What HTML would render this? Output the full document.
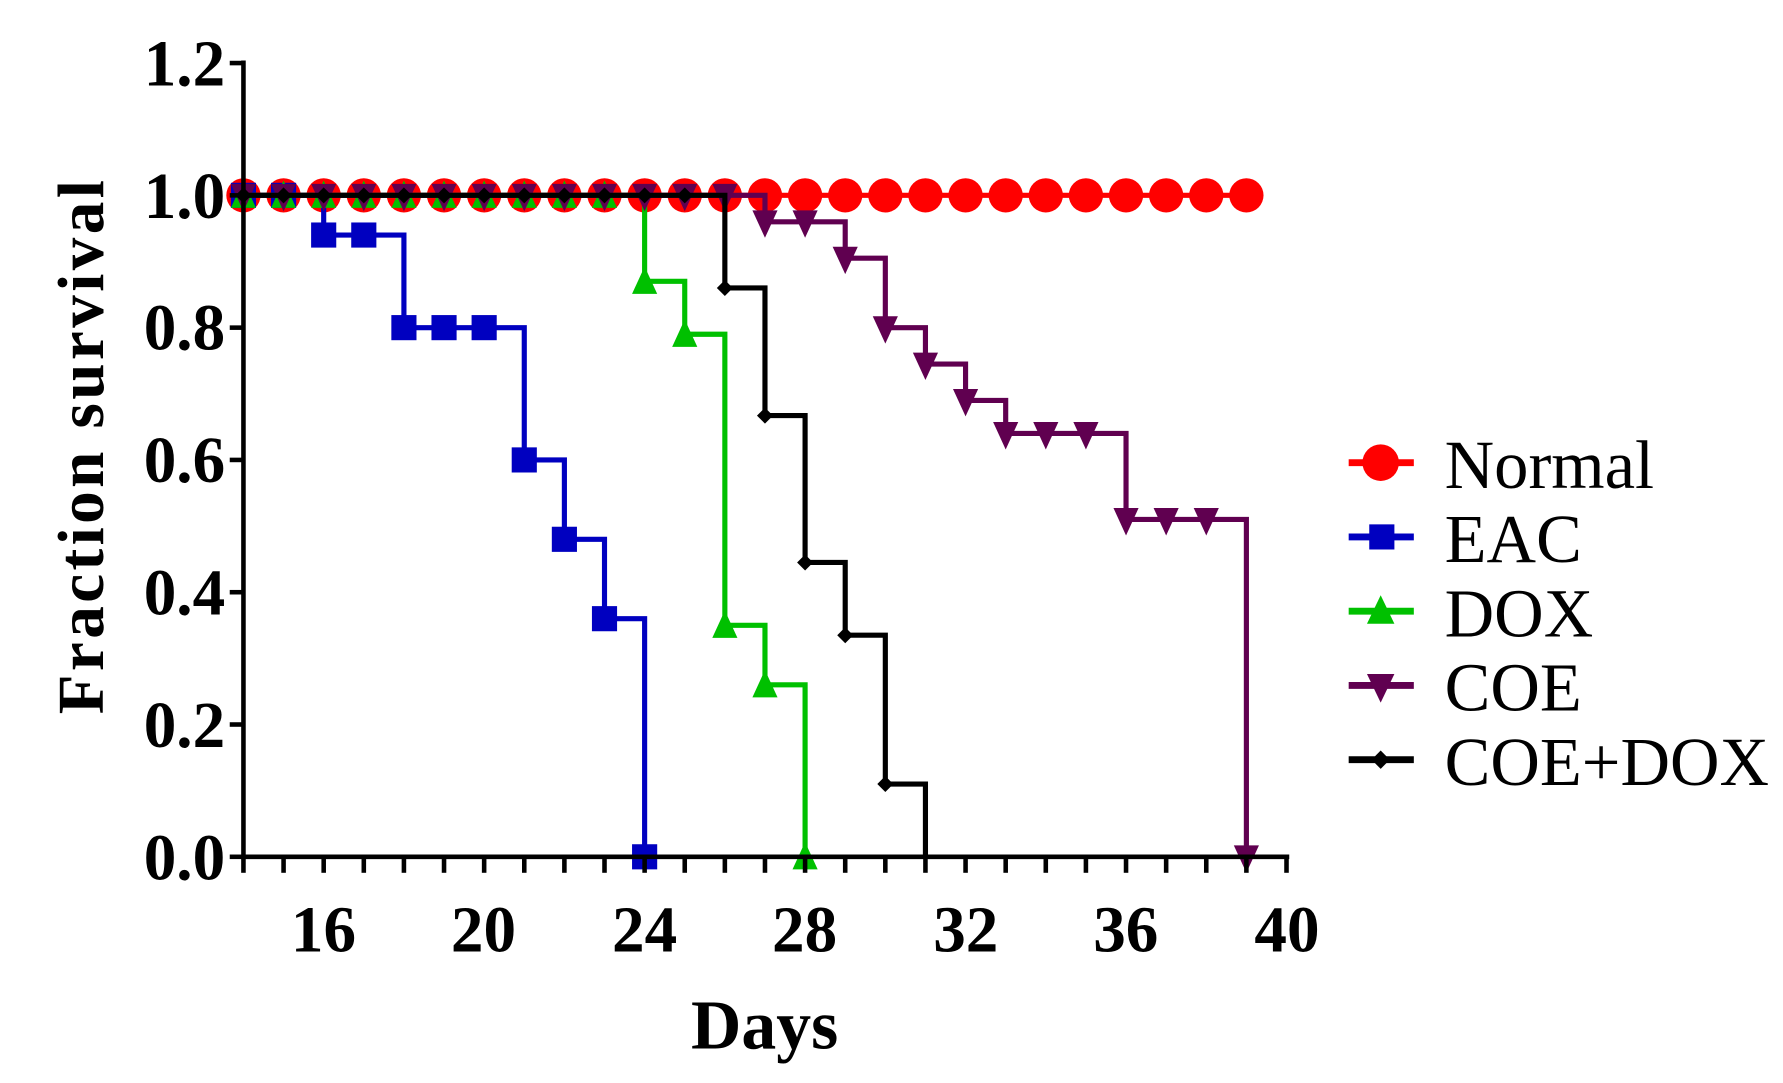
<!DOCTYPE html>
<html><head><meta charset="utf-8"><style>html,body{margin:0;padding:0;background:#fff}svg{display:block}</style></head>
<body>
<svg id="s" width="1783" height="1083" viewBox="0 0 1560 948" preserveAspectRatio="none" xmlns="http://www.w3.org/2000/svg" font-family="Liberation Serif, serif">
<g id="plot"></g>
<g stroke="#000" stroke-width="4" fill="none">
<line x1="213" y1="53" x2="213" y2="752"/>
<line x1="211" y1="750" x2="1128" y2="750"/>
</g>
<g id="ticks" stroke="#000" stroke-width="4"></g>
<g font-weight="bold" font-size="57" text-anchor="end">
<text x="197" y="770">0.0</text><text x="197" y="654">0.2</text><text x="197" y="538">0.4</text>
<text x="197" y="422">0.6</text><text x="197" y="306">0.8</text><text x="197" y="191">1.0</text><text x="197" y="75">1.2</text>
</g>
<g font-weight="bold" font-size="57" text-anchor="middle">
<text x="283" y="833">16</text><text x="423" y="833">20</text><text x="564" y="833">24</text><text x="704" y="833">28</text>
<text x="845" y="833">32</text><text x="985" y="833">36</text><text x="1126" y="833">40</text>
</g>
<text x="669" y="918" font-weight="bold" font-size="61" text-anchor="middle">Days</text>
<text transform="translate(90,390) rotate(-90)" font-weight="bold" font-size="57" text-anchor="middle" letter-spacing="3">Fraction survival</text>
<g font-size="60">
<line x1="1180" y1="405" x2="1237" y2="405" stroke="#f00" stroke-width="6"/><circle cx="1208" cy="405" r="16" fill="#f00"/>
<text x="1264" y="427">Normal</text>
<line x1="1180" y1="470" x2="1237" y2="470" stroke="#0000c0" stroke-width="6"/><rect x="1198" y="459" width="22" height="22" fill="#0000c0"/>
<text x="1264" y="492">EAC</text>
<line x1="1180" y1="535" x2="1237" y2="535" stroke="#00c000" stroke-width="6"/><polygon points="1208,521 1196,546 1220,546" fill="#00c000"/>
<text x="1264" y="557">DOX</text>
<line x1="1180" y1="600" x2="1237" y2="600" stroke="#600050" stroke-width="6"/><polygon points="1196,590 1220,590 1208,615" fill="#600050"/>
<text x="1264" y="622">COE</text>
<line x1="1180" y1="665" x2="1237" y2="665" stroke="#000" stroke-width="6"/><polygon points="1208,657 1216,665 1208,673 1200,665" fill="#000"/>
<text x="1264" y="687">COE+DOX</text>
</g>
</svg>
<script>
var NS="http://www.w3.org/2000/svg";
function X(d){return 213+(d-14)*35.1;}
function Y(v){return 750-v*579;}
var plot=document.getElementById('plot'),ticks=document.getElementById('ticks');
function el(t,a,p){var e=document.createElementNS(NS,t);for(var k in a)e.setAttribute(k,a[k]);(p||plot).appendChild(e);return e;}
for(var v=0;v<=1.21;v+=0.2)el('line',{x1:201,y1:Y(v),x2:213,y2:Y(v)},ticks);
for(var d=14;d<=40;d++)el('line',{x1:X(d),y1:750,x2:X(d),y2:764},ticks);
function steps(pts,end){var s='M'+X(14)+','+Y(1);pts.forEach(function(p){s+=' H'+X(p[0])+' V'+Y(p[1]);});if(end)s+=' H'+X(end);return s;}
function marker(type,c,x,y){
 if(type=='c')el('circle',{cx:x,cy:y,r:15,fill:c});
 else if(type=='s')el('rect',{x:x-11,y:y-11,width:22,height:22,fill:c});
 else if(type=='u')el('polygon',{points:x+','+(y-13)+' '+(x-11)+','+(y+11)+' '+(x+11)+','+(y+11),fill:c});
 else if(type=='d')el('polygon',{points:(x-11)+','+(y-10)+' '+(x+11)+','+(y-10)+' '+x+','+(y+14),fill:c});
 else el('polygon',{points:x+','+(y-7)+' '+(x+7)+','+y+' '+x+','+(y+7)+' '+(x-7)+','+y,fill:c});
}
var series=[
 {c:'#f00',t:'c',steps:[],end:39,m:(function(){var a=[];for(var d=14;d<=39;d++)a.push([d,1]);return a;})()},
 {c:'#0000c0',t:'s',steps:[[16,.94],[18,.8],[21,.6],[22,.48],[23,.36],[24,0]],m:[[14,1],[15,1],[16,.94],[17,.94],[18,.8],[19,.8],[20,.8],[21,.6],[22,.48],[23,.36],[24,0]]},
 {c:'#00c000',t:'u',steps:[[24,.87],[25,.79],[26,.35],[27,.26],[28,0]],m:(function(){var a=[];for(var d=14;d<=23;d++)a.push([d,1]);return a.concat([[24,.87],[25,.79],[26,.35],[27,.26],[28,0]]);})()},
 {c:'#600050',t:'d',steps:[[27,.96],[29,.905],[30,.8],[31,.745],[32,.69],[33,.64],[36,.51],[39,0]],m:(function(){var a=[];for(var d=14;d<=26;d++)a.push([d,1]);return a.concat([[27,.96],[28,.96],[29,.905],[30,.8],[31,.745],[32,.69],[33,.64],[34,.64],[35,.64],[36,.51],[37,.51],[38,.51],[39,0]]);})()},
 {c:'#000',t:'k',steps:[[26,.86],[27,.667],[28,.445],[29,.335],[30,.11],[31,0]],m:(function(){var a=[];for(var d=14;d<=25;d++)a.push([d,1]);return a.concat([[26,.86],[27,.667],[28,.445],[29,.335],[30,.11]]);})()}
];
series.forEach(function(s){
 el('path',{d:steps(s.steps,s.end),stroke:s.c,'stroke-width':4.5,fill:'none'});
 s.m.forEach(function(p){marker(s.t,s.c,X(p[0]),Y(p[1]));});
});
</script>
</body></html>
